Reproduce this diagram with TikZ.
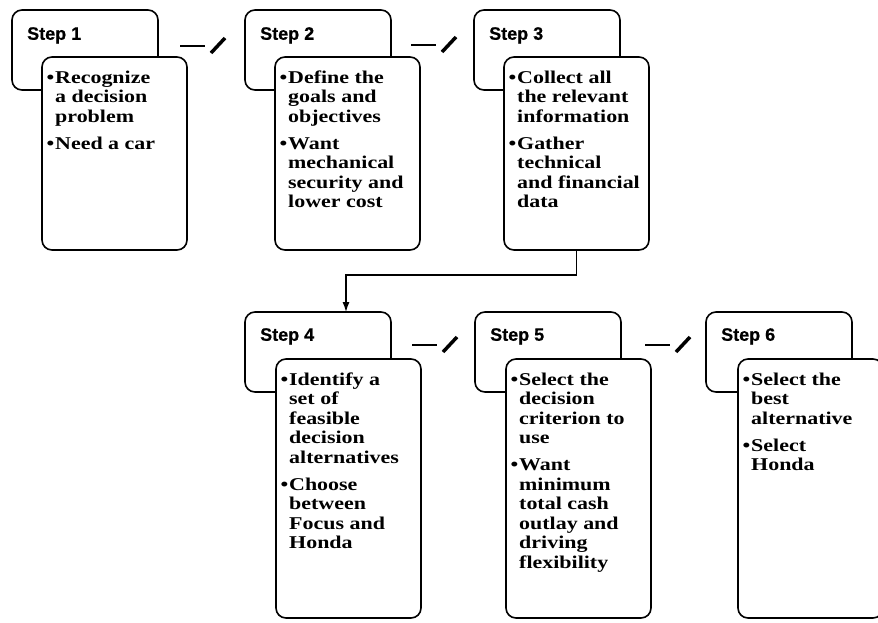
\documentclass[tikz,border=0pt]{standalone}
\usepackage{fontspec}
\newfontfamily\bodyfont{Liberation Serif}[FakeStretch=1.22]
\newfontfamily\headfont{Liberation Sans}[FakeBold=0.6]
\usetikzlibrary{positioning,arrows.meta}

\begin{document}
\begin{tikzpicture}[x=1pt, y=-1pt,
backbox/.style={draw, line width=1.6pt, rounded corners=10pt, minimum width=146pt, minimum height=80pt, inner sep=0pt, outer sep=0pt, anchor=north west},
frontbox/.style={draw, fill=white, line width=1.6pt, rounded corners=10pt, minimum width=145pt, inner sep=0pt, outer sep=0pt},
head/.style={inner sep=0pt, font=\headfont\bfseries\fontsize{18}{20}\selectfont},
items/.style={inner sep=0pt, font=\bodyfont\bfseries\fontsize{18}{19.5}\selectfont},
dashmark/.style={line width=2pt},
slashmark/.style={line width=3.5pt},
]
\useasboundingbox (0,0) rectangle (878,622);

% top row
\node[backbox] (b1) at (12,10) {};
\node[head, below right=17pt and 15pt of b1.north west] (h1) {Step 1};
\node[frontbox, minimum height=193pt, below right=47pt and 30pt of b1.north west] (f1) {};
\node[items, below right=12.5pt and 4.5pt of f1.north west] (t1) {\begin{tabular}{@{}p{8.5pt}@{}l@{}}
\textbullet & Recognize\\ & a decision\\ & problem\\[7.5pt]
\textbullet & Need a car
\end{tabular}};

\node[backbox] (b2) at (245,10) {};
\node[head, below right=17pt and 15pt of b2.north west] (h2) {Step 2};
\node[frontbox, minimum height=193pt, below right=47pt and 30pt of b2.north west] (f2) {};
\node[items, below right=12.5pt and 4.5pt of f2.north west] (t2) {\begin{tabular}{@{}p{8.5pt}@{}l@{}}
\textbullet & Define the\\ & goals and\\ & objectives\\[7.5pt]
\textbullet & Want\\ & mechanical\\ & security and\\ & lower cost
\end{tabular}};

\node[backbox] (b3) at (474,10) {};
\node[head, below right=17pt and 15pt of b3.north west] (h3) {Step 3};
\node[frontbox, minimum height=193pt, below right=47pt and 30pt of b3.north west] (f3) {};
\node[items, below right=12.5pt and 4.5pt of f3.north west] (t3) {\begin{tabular}{@{}p{8.5pt}@{}l@{}}
\textbullet & Collect all\\ & the relevant\\ & information\\[7.5pt]
\textbullet & Gather\\ & technical\\ & and financial\\ & data
\end{tabular}};

% bottom row
\node[backbox] (b4) at (245,312) {};
\node[head, below right=16pt and 15pt of b4.north west] (h4) {Step 4};
\node[frontbox, minimum height=259pt, below right=47pt and 31pt of b4.north west] (f4) {};
\node[items, below right=12.5pt and 4.5pt of f4.north west] (t4) {\begin{tabular}{@{}p{8.5pt}@{}l@{}}
\textbullet & Identify a\\ & set of\\ & feasible\\ & decision\\ & alternatives\\[7.5pt]
\textbullet & Choose\\ & between\\ & Focus and\\ & Honda
\end{tabular}};

\node[backbox] (b5) at (475,312) {};
\node[head, below right=16pt and 15pt of b5.north west] (h5) {Step 5};
\node[frontbox, minimum height=259pt, below right=47pt and 31pt of b5.north west] (f5) {};
\node[items, below right=12.5pt and 4.5pt of f5.north west] (t5) {\begin{tabular}{@{}p{8.5pt}@{}l@{}}
\textbullet & Select the\\ & decision\\ & criterion to\\ & use\\[7.5pt]
\textbullet & Want\\ & minimum\\ & total cash\\ & outlay and\\ & driving\\ & flexibility
\end{tabular}};

\node[backbox] (b6) at (706,312) {};
\node[head, below right=16pt and 15pt of b6.north west] (h6) {Step 6};
\node[frontbox, minimum height=259pt, below right=47pt and 32pt of b6.north west] (f6) {};
\node[items, below right=12.5pt and 4.5pt of f6.north west] (t6) {\begin{tabular}{@{}p{8.5pt}@{}l@{}}
\textbullet & Select the\\ & best\\ & alternative\\[7.5pt]
\textbullet & Select\\ & Honda
\end{tabular}};

% marks between steps
\foreach \mx/\my in {180/46, 411/45, 412/345, 645/345} {
  \draw[dashmark] (\mx,\my) -- ++(25,0);
  \draw[slashmark] (\mx+31,\my+7) -- ++(14,-15);
}

% step 3 to step 4
\coordinate (turn) at (346,275);
\draw[line width=1.2pt, -{Latex[length=10pt,width=7pt]}] (f3.south) |- (turn) -- (turn |- b4.north);

\end{tikzpicture}
\end{document}
